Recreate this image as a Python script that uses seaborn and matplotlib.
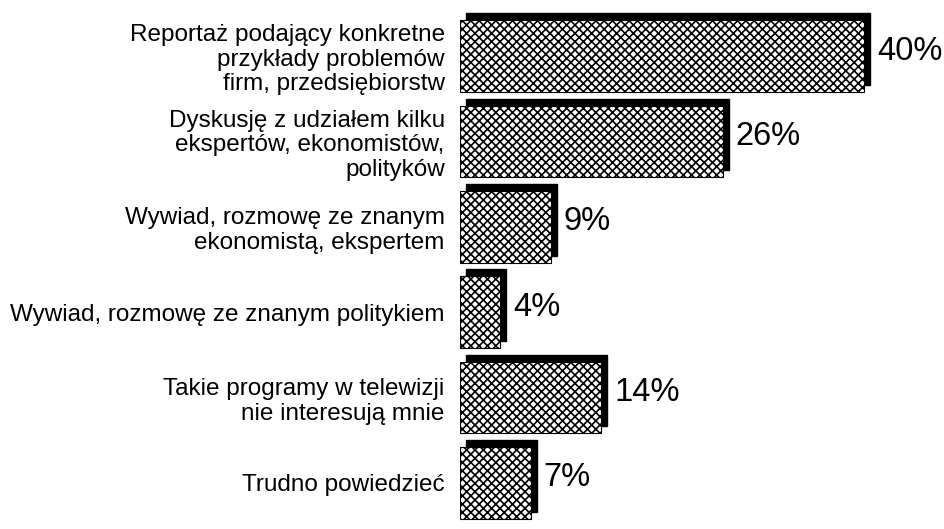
import matplotlib
matplotlib.use("Agg")
import matplotlib.pyplot as plt
import matplotlib.transforms as mtransforms
from matplotlib.patches import Rectangle
import seaborn as sns

# dane
odpowiedzi = [
    "Reportaż podający konkretne\nprzykłady problemów\nfirm, przedsiębiorstw",
    "Dyskusję z udziałem kilku\nekspertów, ekonomistów,\npolityków",
    "Wywiad, rozmowę ze znanym\nekonomistą, ekspertem",
    "Wywiad, rozmowę ze znanym politykiem",
    "Takie programy w telewizji\nnie interesują mnie",
    "Trudno powiedzieć",
]
procenty = [40, 26, 9, 4, 14, 7]
etykiety = ["40%", "26%", "9%", "4%", "14%", "7%"]

sns.set_style("white")
plt.rcParams['font.family'] = ['Liberation Sans', 'DejaVu Sans']
plt.rcParams['hatch.linewidth'] = 1.2
plt.rcParams['text.color'] = 'black'
plt.rcParams['ytick.color'] = 'black'

fig = plt.figure(figsize=(9.45, 5.29), dpi=100)
ax = fig.add_axes([460 / 945, 0, 485 / 945, 1])

sns.barplot(x=procenty, y=odpowiedzi, orient="h", ax=ax, color="white",
            edgecolor="black", linewidth=0.8, hatch="xxxx", width=0.84,
            saturation=1, zorder=3)

# cień (efekt 3D) - czarne prostokąty przesunięte w prawo i do góry
cien = mtransforms.offset_copy(ax.transData, fig=fig, x=6, y=7, units="dots")
for bar in list(ax.patches):
    ax.add_patch(Rectangle(bar.get_xy(), bar.get_width(), bar.get_height(),
                           facecolor="black", edgecolor="black",
                           transform=cien, zorder=2))

# podpisy procentowe
for bar, txt in zip(ax.patches[:len(procenty)], etykiety):
    y = bar.get_y() + bar.get_height() / 2
    ax.annotate(txt, (bar.get_width(), y), xytext=(13, 5),
                textcoords="offset pixels", ha="left", va="center",
                fontsize=23.5, color="black")

ax.set_xlim(0, 48)
ax.set_ylim(5.54, -0.656)
ax.set_xticks([])
ax.set_xlabel("")
ax.set_ylabel("")
ax.tick_params(axis="y", length=0, pad=11, labelsize=17.5, labelcolor="black")
for lab in ax.get_yticklabels():
    lab.set_linespacing(1.15)
for s in ax.spines.values():
    s.set_visible(False)

fig.savefig("out.png", dpi=100)
